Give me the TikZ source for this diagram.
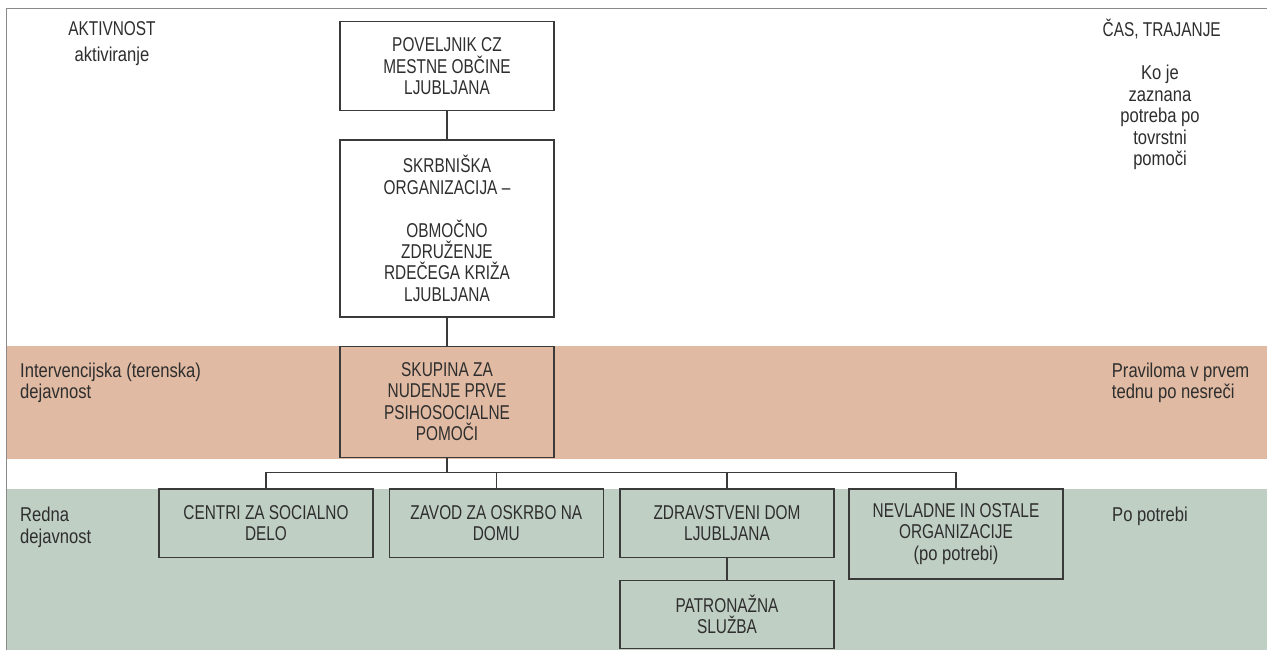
\documentclass[tikz,border=0pt]{standalone}
\usepackage{fontspec}
\newfontfamily\capsf[FakeStretch=0.77]{Liberation Sans}
\newfontfamily\lowf[FakeStretch=0.83]{Liberation Sans}
\definecolor{txt}{HTML}{2E2E2E}
\definecolor{ln}{HTML}{3A3A3A}
\definecolor{frame}{HTML}{8A8A8A}
\definecolor{orangeband}{HTML}{E0BAA2}
\definecolor{greenband}{HTML}{C0CFC4}
\newcommand{\fsz}{\fontsize{20}{21.4}\selectfont}
\newcommand{\stackl}[1]{\begin{tabular}[t]{@{}l@{}}#1\end{tabular}}
\newcommand{\stackc}[1]{\begin{tabular}[t]{@{}c@{}}#1\end{tabular}}
\begin{document}
\begin{tikzpicture}[x=1pt,y=-1pt,
  orgbox/.style={draw=ln,line width=1.4pt,minimum width=214pt,inner sep=0pt,
    align=center,text=txt,font=\capsf\fsz},
  lab/.style={inner sep=0pt,text=txt,font=\lowf\fsz},
  caplab/.style={inner sep=0pt,text=txt,font=\capsf\fsz},
  conn/.style={draw=ln,line width=1.4pt}]
\useasboundingbox (0,0) rectangle (1267,650);
\fill[white] (0,0) rectangle (1267,650);
% bands
\fill[orangeband] (6,346) rectangle (1267,458.5);
\fill[greenband] (6,489) rectangle (1267,650);
% frame
\draw[frame,line width=1.2pt] (6.5,650) -- (6.5,8.8) -- (1267,8.8);
% boxes
\node[orgbox,minimum height=89pt,fill=white] (pov) at (447,66.3)
  {POVELJNIK CZ\\MESTNE OBČINE\\LJUBLJANA};
\node[orgbox,minimum height=177pt,fill=white] (skr) at (447,228.5)
  {SKRBNIŠKA\\ORGANIZACIJA –\\[21.4pt]OBMOČNO\\ZDRUŽENJE\\RDEČEGA KRIŽA\\LJUBLJANA};
\node[orgbox,minimum height=111pt,fill=orangeband] (sku) at (447,401.7)
  {SKUPINA ZA\\NUDENJE PRVE\\PSIHOSOCIALNE\\POMOČI};
\node[orgbox,minimum height=68.7pt,fill=greenband] (cen) at (266,523.3)
  {CENTRI ZA SOCIALNO\\DELO};
\node[orgbox,minimum height=68.7pt,fill=greenband] (zav) at (496.3,523.3)
  {ZAVOD ZA OSKRBO NA\\DOMU};
\node[orgbox,minimum height=68.7pt,fill=greenband] (zdr) at (727,523.3)
  {ZDRAVSTVENI DOM\\LJUBLJANA};
\node[orgbox,minimum height=90pt,fill=greenband] (nev) at (956,534)
  {NEVLADNE IN OSTALE\\ORGANIZACIJE\\{\lowf (po potrebi)}};
\node[orgbox,minimum height=68pt,fill=greenband] (pat) at (727,614.2)
  {PATRONAŽNA\\SLUŽBA};
% connectors
\coordinate (bus) at (447,472.3);
\draw[conn] (pov.south) -- (skr.north);
\draw[conn] (skr.south) -- (sku.north);
\draw[conn] (sku.south) -- (bus);
\draw[conn] (cen.north) |- (bus) -| (nev.north);
\draw[conn] (zav.north) -- (zav.north |- bus);
\draw[conn] (zdr.north) -- (zdr.north |- bus);
\draw[conn] (zdr.south) -- (pat.north);
% side labels
\node[caplab,anchor=base] (akt) at (112,36) {AKTIVNOST};
\node[lab,anchor=base] (aktv) at (112,61.7) {aktiviranje};
\node[caplab,anchor=base] (cas) at (1161.7,36.7) {ČAS, TRAJANJE};
\node[lab,anchor=base] (koje) at (1160,80) {\stackc{Ko je\\zaznana\\potreba po\\tovrstni\\pomoči}};
\node[lab,anchor=base west] (int) at (20,377) {\stackl{Intervencijska (terenska)\\dejavnost}};
\node[lab,anchor=base west] (prav) at (1111.7,377) {\stackl{Praviloma v prvem\\tednu po nesreči}};
\node[lab,anchor=base west] (red) at (20,521.7) {\stackl{Redna\\dejavnost}};
\node[lab,anchor=base west] (pop) at (1112,521.7) {Po potrebi};
\end{tikzpicture}
\end{document}
